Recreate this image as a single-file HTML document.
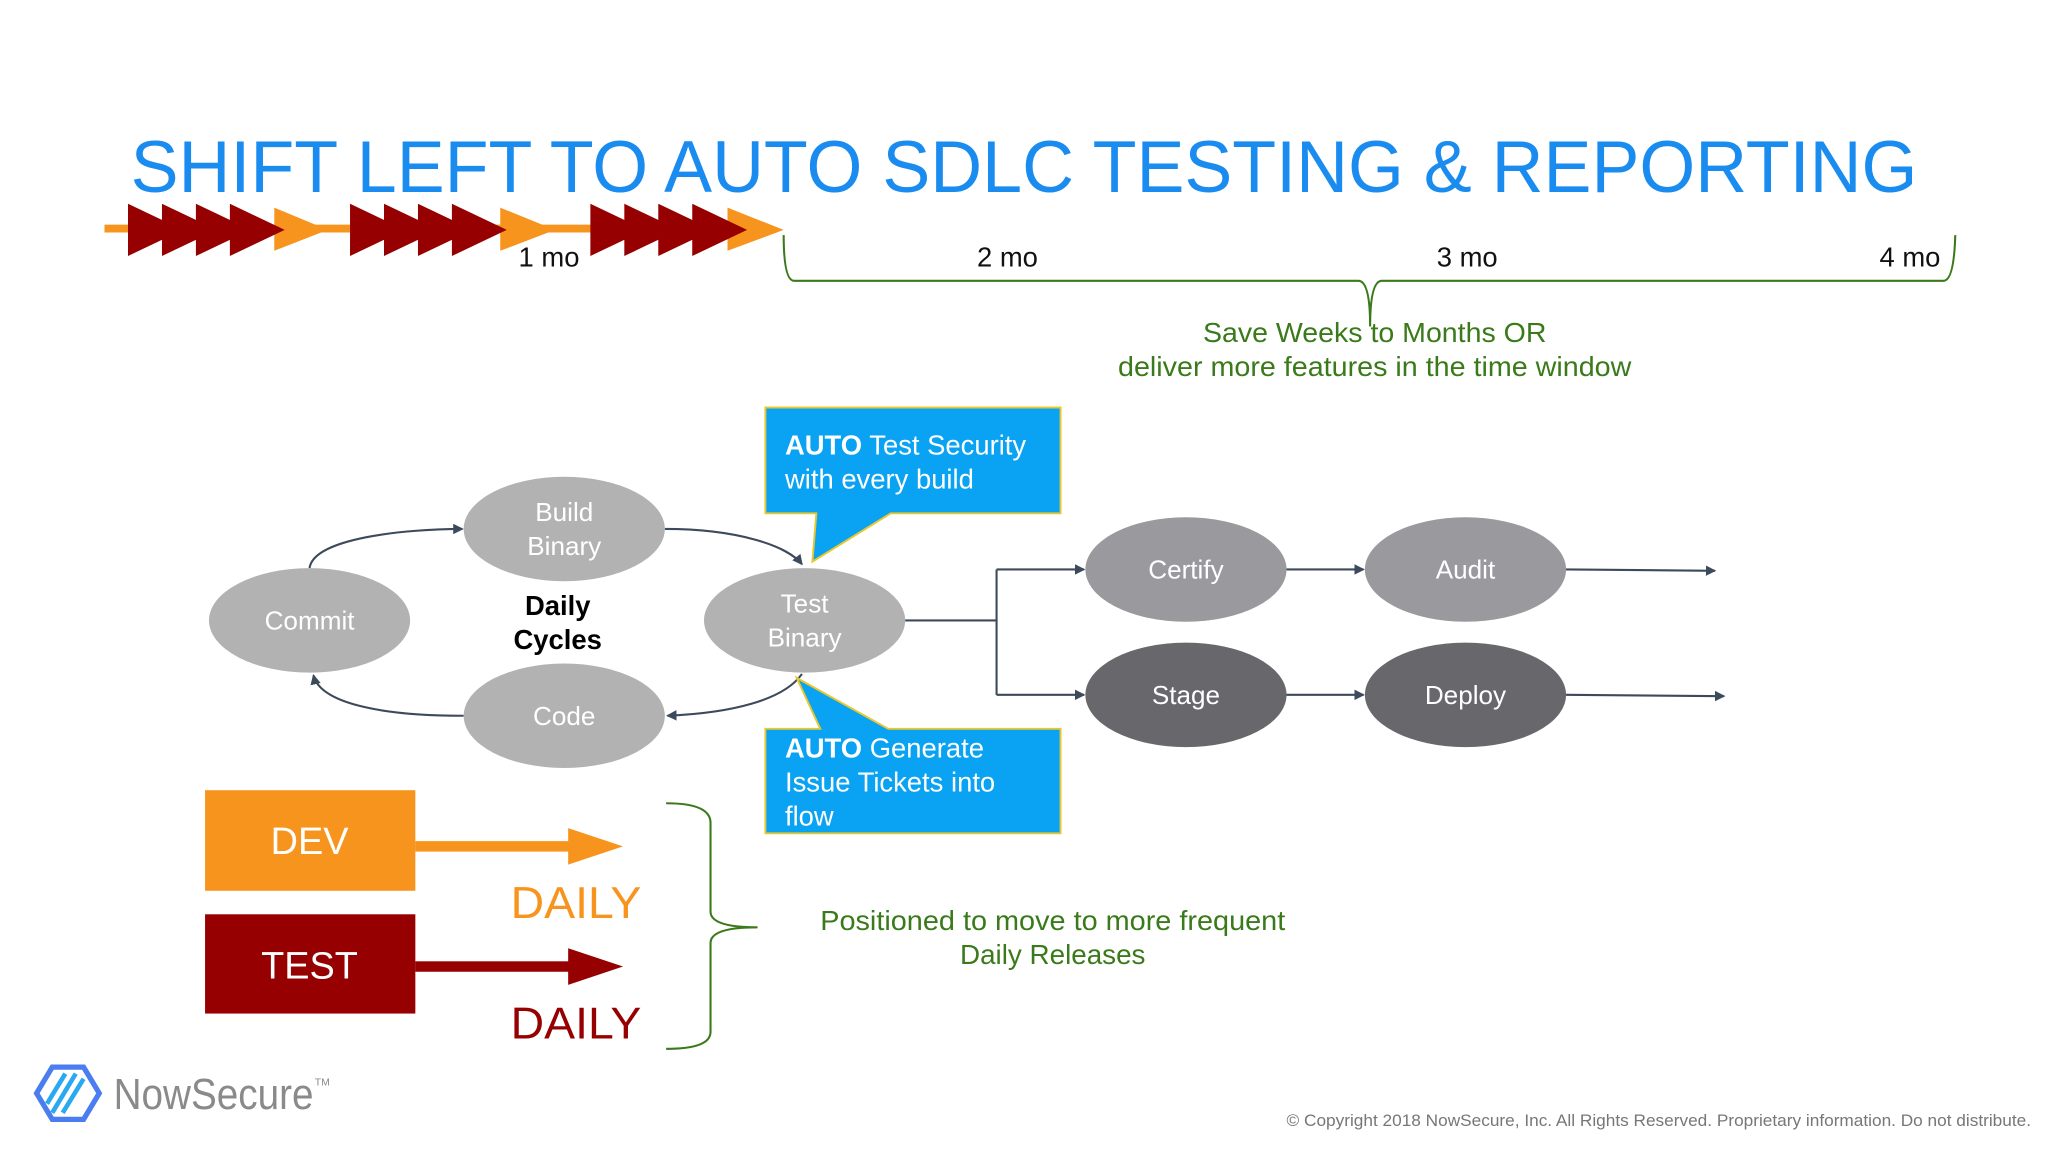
<!DOCTYPE html>
<html><head><meta charset="utf-8"><style>
html,body{margin:0;padding:0;background:#fff;}
svg{display:block;font-family:"Liberation Sans",Arial,sans-serif;}
</style></head><body>
<svg width="2048" height="1152" viewBox="0 0 1568 882" xmlns="http://www.w3.org/2000/svg">
<defs>
<marker id="ah" markerWidth="8" markerHeight="8" refX="7" refY="4" orient="auto" markerUnits="userSpaceOnUse"><path d="M0,0 L8,4 L0,8 Z" fill="#3d4a5c"/></marker>
</defs>
<rect width="1568" height="882" fill="#fff"/>
<text x="100" y="147" font-size="56" fill="#1a8cf0" textLength="1368" lengthAdjust="spacingAndGlyphs">SHIFT LEFT TO AUTO SDLC TESTING &amp; REPORTING</text>

<!-- timeline arrows -->
<rect x="80" y="172" width="480" height="6" fill="#f7941d"/>
<g fill="#f7941d">
<polygon points="210,159 251,176 210,192"/>
<polygon points="383,159 425,176 383,192"/>
<polygon points="557,159 600,176 557,192"/>
</g>
<g fill="#960000">
<polygon points="98,156 140,176 98,196"/><polygon points="124,156 166,176 124,196"/><polygon points="150,156 192,176 150,196"/><polygon points="176,156 218,176 176,196"/>
<polygon points="268,156 310,176 268,196"/><polygon points="294,156 336,176 294,196"/><polygon points="320,156 362,176 320,196"/><polygon points="346,156 388,176 346,196"/>
<polygon points="452,156 494,176 452,196"/><polygon points="478,156 520,176 478,196"/><polygon points="504,156 546,176 504,196"/><polygon points="530,156 572,176 530,196"/>
</g>
<g font-size="21" fill="#111">
<text x="397" y="204">1 mo</text>
<text x="748" y="204">2 mo</text>
<text x="1100" y="204">3 mo</text>
<text x="1439" y="204">4 mo</text>
</g>
<path d="M600,180 Q600,215 608,215 L1040,215 Q1049,215 1049,250 Q1049,215 1058,215 L1488,215 Q1496,215 1497,180" fill="none" stroke="#3a7a1a" stroke-width="1.6"/>
<g font-size="21" fill="#3a7a1a">
<text x="921" y="262" textLength="263" lengthAdjust="spacingAndGlyphs">Save Weeks to Months OR</text>
<text x="856" y="288" textLength="393" lengthAdjust="spacingAndGlyphs">deliver more features in the time window</text>
</g>

<!-- connectors -->
<g fill="none" stroke="#3d4a5c" stroke-width="1.6" marker-end="url(#ah)">
<path d="M237,435 C240,412 310,405 354,405"/>
<path d="M509,405 C565,405 603,418 614,432"/>
<path d="M614,516 C600,536 560,546 511,548"/>
<path d="M355,548 C290,548 245,538 240,517"/>
<path d="M763,436 L830,436"/>
<path d="M763,532 L830,532"/>
<path d="M985,436 L1044,436"/>
<path d="M985,532 L1044,532"/>
<path d="M1199,436 L1313,437"/>
<path d="M1199,532 L1320,533"/>
</g>
<path d="M693,475 L763,475 M763,436 L763,532" fill="none" stroke="#3d4a5c" stroke-width="1.6"/>

<!-- nodes -->
<g fill="#b2b2b2">
<ellipse cx="237" cy="475" rx="77" ry="40"/>
<ellipse cx="432" cy="405" rx="77" ry="40"/>
<ellipse cx="432" cy="548" rx="77" ry="40"/>
<ellipse cx="616" cy="475" rx="77" ry="40"/>
</g>
<ellipse cx="908" cy="436" rx="77" ry="40" fill="#9a999d"/>
<ellipse cx="1122" cy="436" rx="77" ry="40" fill="#9a999d"/>
<ellipse cx="908" cy="532" rx="77" ry="40" fill="#68676b"/>
<ellipse cx="1122" cy="532" rx="77" ry="40" fill="#68676b"/>
<g font-size="20" fill="#fff" text-anchor="middle">
<text x="237" y="482">Commit</text>
<text x="432" y="399">Build</text><text x="432" y="425">Binary</text>
<text x="432" y="555">Code</text>
<text x="616" y="469">Test</text><text x="616" y="495">Binary</text>
<text x="908" y="443">Certify</text>
<text x="1122" y="443">Audit</text>
<text x="908" y="539">Stage</text>
<text x="1122" y="539">Deploy</text>
</g>
<g font-size="21" font-weight="bold" fill="#000" text-anchor="middle">
<text x="427" y="471">Daily</text><text x="427" y="497">Cycles</text>
</g>

<!-- callouts -->
<g fill="#0aa2f2" stroke="#e8c830" stroke-width="1.5">
<path d="M586,312 L812,312 L812,393 L682,393 L622,430 L625,393 L586,393 Z"/>
<path d="M586,558 L628,558 L610,519 L680,558 L812,558 L812,638 L586,638 Z"/>
</g>
<g font-size="21" fill="#fff">
<text x="601" y="348"><tspan font-weight="bold">AUTO</tspan> Test Security</text>
<text x="601" y="374">with every build</text>
<text x="601" y="580"><tspan font-weight="bold">AUTO</tspan> Generate</text>
<text x="601" y="606">Issue Tickets into</text>
<text x="601" y="632">flow</text>
</g>

<!-- DEV / TEST -->
<rect x="157" y="605" width="161" height="77" fill="#f7941d"/>
<rect x="318" y="644" width="120" height="8" fill="#f7941d"/>
<polygon points="435,634 477,648 435,662" fill="#f7941d"/>
<rect x="157" y="700" width="161" height="76" fill="#960000"/>
<rect x="318" y="736" width="120" height="8" fill="#960000"/>
<polygon points="435,726 477,740 435,754" fill="#960000"/>
<text x="237" y="654" font-size="29" fill="#fff" text-anchor="middle">DEV</text>
<text x="237" y="749" font-size="29" fill="#fff" text-anchor="middle">TEST</text>
<text x="391" y="703" font-size="34" fill="#f7941d" textLength="100" lengthAdjust="spacingAndGlyphs">DAILY</text>
<text x="391" y="795" font-size="34" fill="#960000" textLength="100" lengthAdjust="spacingAndGlyphs">DAILY</text>
<path d="M510,615 Q544,615 544,630 L544,698 Q544,710 580,710 Q544,710 544,722 L544,790 Q544,803 510,803" fill="none" stroke="#3a7a1a" stroke-width="1.6"/>
<g font-size="21" fill="#3a7a1a">
<text x="628" y="712" textLength="356" lengthAdjust="spacingAndGlyphs">Positioned to move to more frequent</text>
<text x="735" y="738" textLength="142" lengthAdjust="spacingAndGlyphs">Daily Releases</text>
</g>

<!-- logo -->
<g fill="none" stroke-width="4">
<polygon points="40,817 64,817 76,837 64,857 40,857 28,837" stroke="#4a7df0"/>
<path d="M40,852 L58,822 M48,852 L64,826 M36,845 L50,822" stroke="#2aa8f0" stroke-width="3.5"/>
</g>
<text x="87" y="849" font-size="33" fill="#8a8a8a" textLength="153" lengthAdjust="spacingAndGlyphs">NowSecure</text>
<text x="241" y="831" font-size="8" fill="#8a8a8a">TM</text>
<text x="985" y="862" font-size="12.5" fill="#777" textLength="570" lengthAdjust="spacingAndGlyphs">© Copyright 2018 NowSecure, Inc. All Rights Reserved. Proprietary information. Do not distribute.</text>
</svg>
</body></html>
